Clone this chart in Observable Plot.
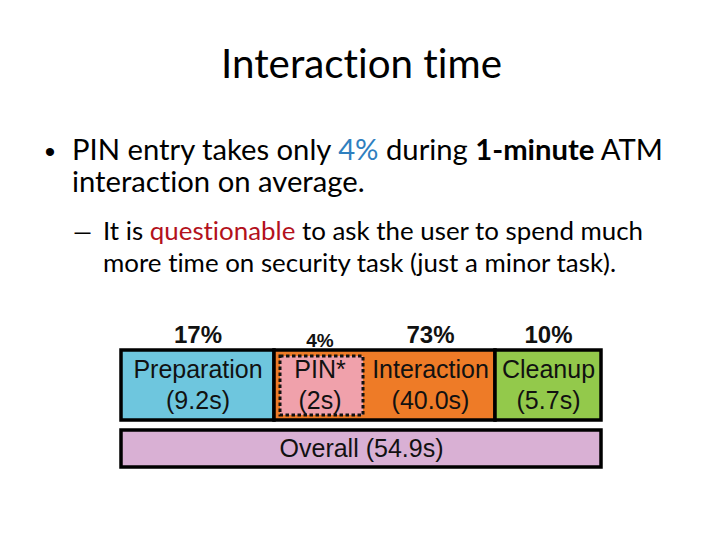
<!DOCTYPE html>
<html><head><meta charset="utf-8">
<script src="https://cdn.jsdelivr.net/npm/d3@7"></script>
<script src="https://cdn.jsdelivr.net/npm/@observablehq/plot@0.6"></script>
<style>
body{margin:0;background:#fff;}
#slide{position:relative;width:720px;height:540px;overflow:hidden;background:#fff;}
#text{position:absolute;left:0;top:0;}
#text text{font-variant-ligatures:none;font-feature-settings:"liga" 0,"dlig" 0;}
#chart{position:absolute;left:0;top:305px;}
</style></head><body>
<div id="slide">
<svg id="text" width="720" height="300" font-family="Lato, 'Open Sans', sans-serif" fill="#000">
  <text id="title" x="361.5" y="78" text-anchor="middle" font-size="36">Interaction time</text>
  <text x="50" y="162" text-anchor="middle" font-size="30" font-family="'Liberation Sans', Arial, sans-serif">•</text>
  <text id="b1" x="72" y="160" font-size="24">PIN entry takes only <tspan fill="#2f7fbf">4%</tspan> during <tspan font-weight="bold">1-minute</tspan> ATM</text>
  <text id="b2" x="72" y="192" font-size="24">interaction on average.</text>
  <text x="73" y="240" font-size="24">—</text>
  <text id="s1" x="103" y="240" font-size="22">It is <tspan fill="#b3111c">questionable</tspan> to ask the user to spend much</text>
  <text id="s2" x="103" y="272" font-size="22">more time on security task (just a minor task).</text>
</svg>
<div id="chart"></div>
</div>
<script>
// ---- data ----
const phases = ["Preparation", "Interaction", "Cleanup"];
const phaseSeconds = [9.2, 40.0, 5.7];
const phasePercents = ["17%", "73%", "10%"];
const phaseColors = ["#6ec6de", "#ee7b27", "#93c94b"];
const pinLabel = "PIN*";
const pinSeconds = 2;
const pinPercent = "4%";
const pinColor = "#f0a1ab";
const overallLabel = "Overall";
const overallSeconds = 54.9;
const overallColor = "#d9b0d4";

// ---- build table ----
let acc = 0;
const rows = phases.map((p, i) => {
  const r = {phase: p, start: acc, end: acc + phaseSeconds[i], secs: phaseSeconds[i], pct: phasePercents[i], color: phaseColors[i]};
  acc += phaseSeconds[i];
  return r;
});
const inter = rows.find(r => r.phase === "Interaction");
const pin = {phase: pinLabel, start: inter.start, end: inter.start + pinSeconds, secs: pinSeconds, pct: pinPercent, color: pinColor};
rows.forEach(r => { r.labelFrom = r.phase === "Interaction" ? pin.end : r.start; });
const overall = {phase: overallLabel, start: 0, end: overallSeconds, secs: overallSeconds, color: overallColor};

const fmt = s => Number.isInteger(s) && s !== 40 ? `${s}s` : `${s.toFixed(1)}s`;

// schematic (non-proportional) widths as drawn in the original figure
const breaks = [0, pin.start, pin.end, rows[2].start, overallSeconds];
const left = 121, widths = [0, 153, 91, 130, 106];
const xRange = widths.map((w, i) => left + d3.sum(widths.slice(0, i + 1)));
// the visual centre of the full bar, expressed in data units (inverse of the piecewise scale)
const inv = d3.scaleLinear().domain(xRange).range(breaks);
overall.mid = inv((xRange[0] + xRange[xRange.length - 1]) / 2);

const font = "'Liberation Sans', Arial, sans-serif";
const chart = Plot.plot({
  width: 720, height: 200,
  x: {type: "linear", domain: breaks, range: xRange, axis: null},
  y: {type: "band", domain: ["phases", "overall"], range: [45, 195], paddingInner: 0.125, paddingOuter: 0, axis: null},
  color: {type: "identity"},
  style: {background: "transparent", overflow: "visible"},
  marks: [
    Plot.barX(rows, {x1: "start", x2: "end", y: () => "phases", fill: "color", stroke: "#000", strokeWidth: 3.5}),
    Plot.barX([pin], {x1: "start", x2: "end", y: () => "phases", fill: "color", stroke: "#111", strokeWidth: 3, strokeDasharray: "3.5,2.5",
      insetLeft: 6, insetRight: 2, insetTop: 6, insetBottom: 5}),
    Plot.barX([overall], {x1: "start", x2: "end", y: () => "overall", fill: "color", stroke: "#000", strokeWidth: 3.5, insetBottom: 33}),
    Plot.text(rows, {x: d => (d.labelFrom + d.end) / 2, y: () => "phases", text: d => `${d.phase}\n(${fmt(d.secs)})`,
      fontFamily: font, fontSize: 25, lineHeight: 1.26, fill: "#111", dy: -2}),
    Plot.text([pin], {x: d => (d.start + d.end) / 2, y: () => "phases", text: d => `${d.phase}\n(${fmt(d.secs)})`,
      fontFamily: font, fontSize: 25, lineHeight: 1.26, fill: "#111", dy: -2}),
    Plot.text(rows, {x: d => (d.labelFrom + d.end) / 2, y: () => "phases", text: "pct",
      fontFamily: font, fontSize: 24, fontWeight: "bold", fill: "#111", dy: -50}),
    Plot.text([pin], {x: d => (d.start + d.end) / 2, y: () => "phases", text: "pct",
      fontFamily: font, fontSize: 19, fontWeight: "bold", fill: "#111", dy: -45}),
    Plot.text([overall], {x: "mid", y: () => "overall", text: d => `${d.phase} (${d.secs.toFixed(1)}s)`,
      fontFamily: font, fontSize: 25, fill: "#111", dy: -16.5})
  ]
});
document.getElementById("chart").appendChild(chart);

// fit slide text widths to the original layout
function fit(ids, target) {
  const els = ids.map(id => document.getElementById(id));
  const fs = parseFloat(els[0].getAttribute("font-size"));
  const w = els[0].getComputedTextLength();
  if (w > 0) els.forEach(e => e.setAttribute("font-size", (fs * target / w).toFixed(2)));
}
function fitAll() {
  fit(["title"], 281);
  fit(["b1", "b2"], 591);
  fit(["s1", "s2"], 540);
}
fitAll();
if (document.fonts && document.fonts.ready) document.fonts.ready.then(fitAll);
</script>
</body></html>
